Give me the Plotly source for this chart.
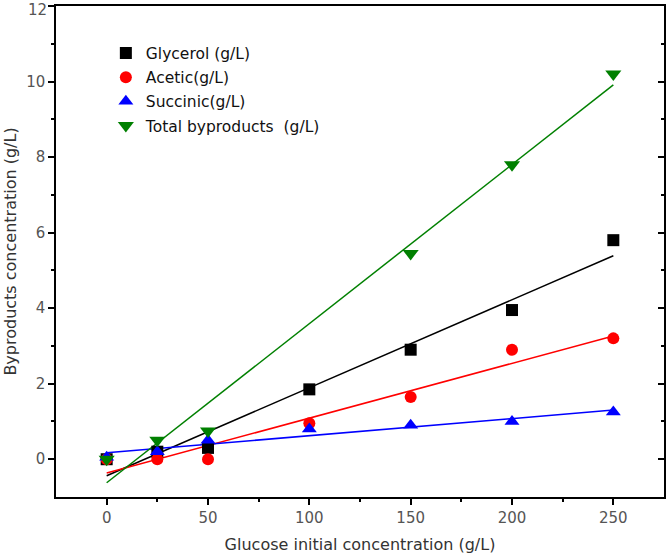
import numpy as np
import plotly.graph_objects as go

glucose = [0, 25, 50, 100, 150, 200, 250]
glycerol = [0.0, 0.2, 0.3, 1.85, 2.9, 3.95, 5.8]
acetic = [0.0, 0.0, 0.0, 0.95, 1.65, 2.9, 3.2]
succinic = [0.05, 0.2, 0.5, 0.8, 0.9, 1.0, 1.25]
total_x = [0, 25, 50, 150, 200, 250]
total = [0.0, 0.5, 0.75, 5.45, 7.8, 10.2]

names = ["Glycerol (g/L)", "Acetic(g/L)", "Succinic(g/L)", "Total byproducts  (g/L)"]
colors = ["#000000", "#ff0000", "#0000ff", "#008000"]
symbols = ["square", "circle", "triangle-up", "triangle-down"]
sizes = [12, 12, 13, 14]
series = [(glucose, glycerol), (glucose, acetic), (glucose, succinic), (total_x, total)]

FONT = "DejaVu Sans, Verdana, sans-serif"

fig = go.Figure()
for (xs, ys), name, c in zip(series, names, colors):
    k, b = np.polyfit(xs, ys, 1)
    xf = np.array([0, 250])
    fig.add_trace(go.Scatter(x=xf, y=k * xf + b, mode="lines",
                             line=dict(color=c, width=1.5), showlegend=False,
                             hoverinfo="skip"))
for i, ((xs, ys), name, c, s, sz) in enumerate(zip(series, names, colors, symbols, sizes)):
    fig.add_trace(go.Scatter(x=xs, y=ys, mode="markers", name=name, legendgroup=str(i),
                             marker=dict(color=c, symbol=s, size=sz, line=dict(width=0))))

# invisible trace to anchor right axis
fig.add_trace(go.Scatter(x=[0], y=[0], yaxis="y2", mode="markers",
                         marker=dict(opacity=0), showlegend=False, hoverinfo="skip"))

tickfont = dict(family=FONT, size=15, color="#555555")
titlefont = dict(family=FONT, size=16, color="#333333")

fig.update_layout(
    width=666, height=556,
    margin=dict(l=56, r=2, t=6, b=59, autoexpand=False),
    paper_bgcolor="white", plot_bgcolor="white",
    showlegend=True,
    legend=dict(x=0.082, y=0.938, xanchor="left", yanchor="top",
                font=dict(family=FONT, size=15.5, color="#111111"),
                bgcolor="rgba(0,0,0,0)", tracegroupgap=1, itemwidth=30),
    xaxis=dict(range=[-25, 275], tickvals=[0, 50, 100, 150, 200, 250],
               ticks="outside", ticklen=6, tickwidth=1.5, tickcolor="black",
               minor=dict(tickvals=[25, 75, 125, 175, 225], ticks="outside", ticklen=3,
                          tickwidth=1.5, tickcolor="black", showgrid=False),
               showline=True, linecolor="black", linewidth=1.5, mirror=True,
               showgrid=False, zeroline=False, tickfont=tickfont, automargin=False,
               title=dict(text="Glucose initial concentration (g/L)", font=titlefont, standoff=13)),
    yaxis=dict(range=[-1, 12], tickvals=[0, 2, 4, 6, 8, 10, 12],
               ticks="outside", ticklen=6, tickwidth=1.5, tickcolor="black",
               minor=dict(tickvals=[1, 3, 5, 7, 9, 11], ticks="outside", ticklen=3,
                          tickwidth=1.5, tickcolor="black", showgrid=False),
               showline=True, linecolor="black", linewidth=1.5,
               showgrid=False, zeroline=False, tickfont=tickfont, automargin=False,
               title=dict(text="Byproducts concentration (g/L)", font=titlefont, standoff=6)),
    yaxis2=dict(range=[-1, 12], overlaying="y", side="right",
                tickvals=[0, 2, 4, 6, 8, 10, 12], ticks="inside", ticklen=6, tickwidth=1.5,
                tickcolor="black",
                minor=dict(tickvals=[1, 3, 5, 7, 9, 11], ticks="inside", ticklen=3,
                           tickwidth=1.5, tickcolor="black", showgrid=False),
                showticklabels=False, showline=True, linecolor="black", linewidth=1.5,
                showgrid=False, zeroline=False, automargin=False),
    annotations=[dict(text="12", xref="paper", yref="y", x=0, y=12, xanchor="right",
                      yanchor="middle", xshift=-8, yshift=-4, borderpad=0,
                      showarrow=False, font=tickfont)],
)

fig.write_html("out.html", config={"displayModeBar": False},
               post_script="document.body.style.margin='0';"
                           "document.documentElement.style.overflow='hidden';")
